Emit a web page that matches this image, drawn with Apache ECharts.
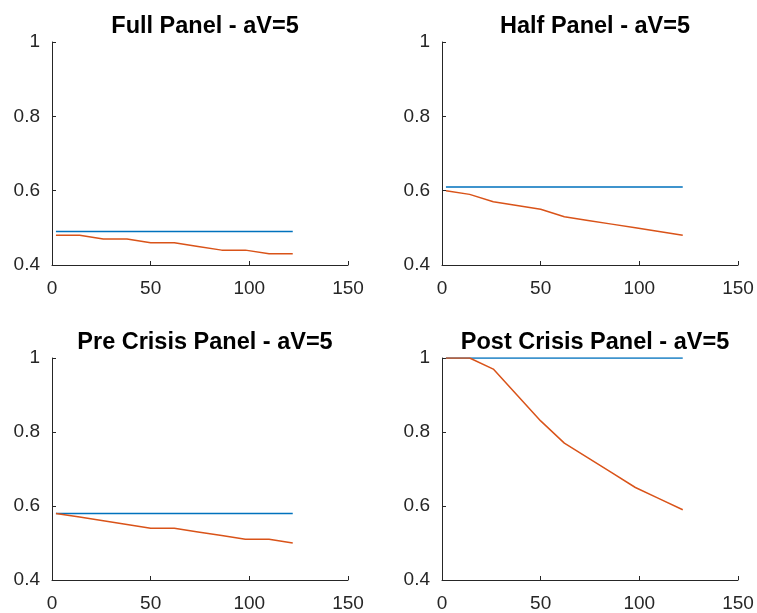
<!DOCTYPE html>
<html>
<head>
<meta charset="utf-8">
<script src="https://cdn.jsdelivr.net/npm/echarts@6/dist/echarts.min.js"></script>
<style>
  html, body { margin: 0; padding: 0; background: #fff; }
  #chart { width: 757px; height: 613px; }
</style>
</head>
<body>
<div id="chart"></div>
<script>
// Horizon steps shared by every panel
const steps = [2, 14, 26, 38, 50, 62, 74, 86, 98, 110, 122];

const panelTitles = [
  'Full Panel - aV=5',
  'Half Panel - aV=5',
  'Pre Crisis Panel - aV=5',
  'Post Crisis Panel - aV=5'
];

// Benchmark level (blue) per panel
const fullBase = [0.49, 0.49, 0.49, 0.49, 0.49, 0.49, 0.49, 0.49, 0.49, 0.49, 0.49];
const halfBase = [0.61, 0.61, 0.61, 0.61, 0.61, 0.61, 0.61, 0.61, 0.61, 0.61, 0.61];
const preBase  = [0.58, 0.58, 0.58, 0.58, 0.58, 0.58, 0.58, 0.58, 0.58, 0.58, 0.58];
const postBase = [1.00, 1.00, 1.00, 1.00, 1.00, 1.00, 1.00, 1.00, 1.00, 1.00, 1.00];

// Estimated curve (red) per panel
const fullEst = [0.48, 0.48, 0.47, 0.47, 0.46, 0.46, 0.45, 0.44, 0.44, 0.43, 0.43];
const halfEst = [0.60, 0.59, 0.57, 0.56, 0.55, 0.53, 0.52, 0.51, 0.50, 0.49, 0.48];
const preEst  = [0.58, 0.57, 0.56, 0.55, 0.54, 0.54, 0.53, 0.52, 0.51, 0.51, 0.50];
const postEst = [1.00, 1.00, 0.97, 0.90, 0.83, 0.77, 0.73, 0.69, 0.65, 0.62, 0.59];

const xTicks = [0, 50, 100, 150];
const yTicks = [0.4, 0.6, 0.8, 1];

const baseSets = [fullBase, halfBase, preBase, postBase];
const estSets = [fullEst, halfEst, preEst, postEst];

const BLUE = '#0072BD';
const RED = '#D95319';
const INK = '#262626';
const FONT = '"Liberation Sans", Arial, Helvetica, sans-serif';

// Panel geometry (pixels)
const grids = [
  { left: 52,  top: 42,  width: 296, height: 223 },
  { left: 442, top: 42,  width: 296, height: 223 },
  { left: 52,  top: 358, width: 296, height: 222 },
  { left: 442, top: 358, width: 296, height: 222 }
];

function pairs(xs, ys) {
  return xs.map((x, i) => [x, ys[i]]);
}

const option = {
  backgroundColor: '#ffffff',
  animation: false,
  title: grids.map((g, i) => ({
    text: panelTitles[i],
    left: g.left + g.width / 2,
    top: g.top - 32,
    textAlign: 'center',
    textStyle: { fontFamily: FONT, fontSize: 23.5, fontWeight: 'bold', color: '#000' }
  })),
  grid: grids.map(g => Object.assign({ containLabel: false }, g)),
  xAxis: grids.map((g, i) => ({
    type: 'value',
    gridIndex: i,
    min: xTicks[0],
    max: xTicks[xTicks.length - 1],
    interval: 50,
    axisLine: { show: true, onZero: false, lineStyle: { color: INK, width: 1 } },
    axisTick: { show: true, inside: true, length: 4, lineStyle: { color: INK } },
    axisLabel: { color: INK, fontFamily: FONT, fontSize: 19, margin: 14 },
    splitLine: { show: false }
  })),
  yAxis: grids.map((g, i) => ({
    type: 'value',
    gridIndex: i,
    min: yTicks[0],
    max: yTicks[yTicks.length - 1],
    interval: 0.2,
    axisLine: { show: true, onZero: false, lineStyle: { color: INK, width: 1 } },
    axisTick: { show: true, inside: true, length: 4, lineStyle: { color: INK } },
    axisLabel: {
      color: INK, fontFamily: FONT, fontSize: 19, margin: 12,
      formatter: v => String(Math.round(v * 10) / 10)
    },
    splitLine: { show: false }
  })),
  series: []
};

for (let i = 0; i < 4; i++) {
  option.series.push({
    type: 'line',
    xAxisIndex: i,
    yAxisIndex: i,
    data: pairs(steps, baseSets[i]),
    showSymbol: false,
    lineStyle: { color: BLUE, width: 1.5 },
    z: 2
  });
  option.series.push({
    type: 'line',
    xAxisIndex: i,
    yAxisIndex: i,
    data: pairs(steps, estSets[i]),
    showSymbol: false,
    lineStyle: { color: RED, width: 1.5 },
    z: 3
  });
}

const chart = echarts.init(document.getElementById('chart'), null, { renderer: 'canvas' });
chart.setOption(option);
</script>
</body>
</html>
